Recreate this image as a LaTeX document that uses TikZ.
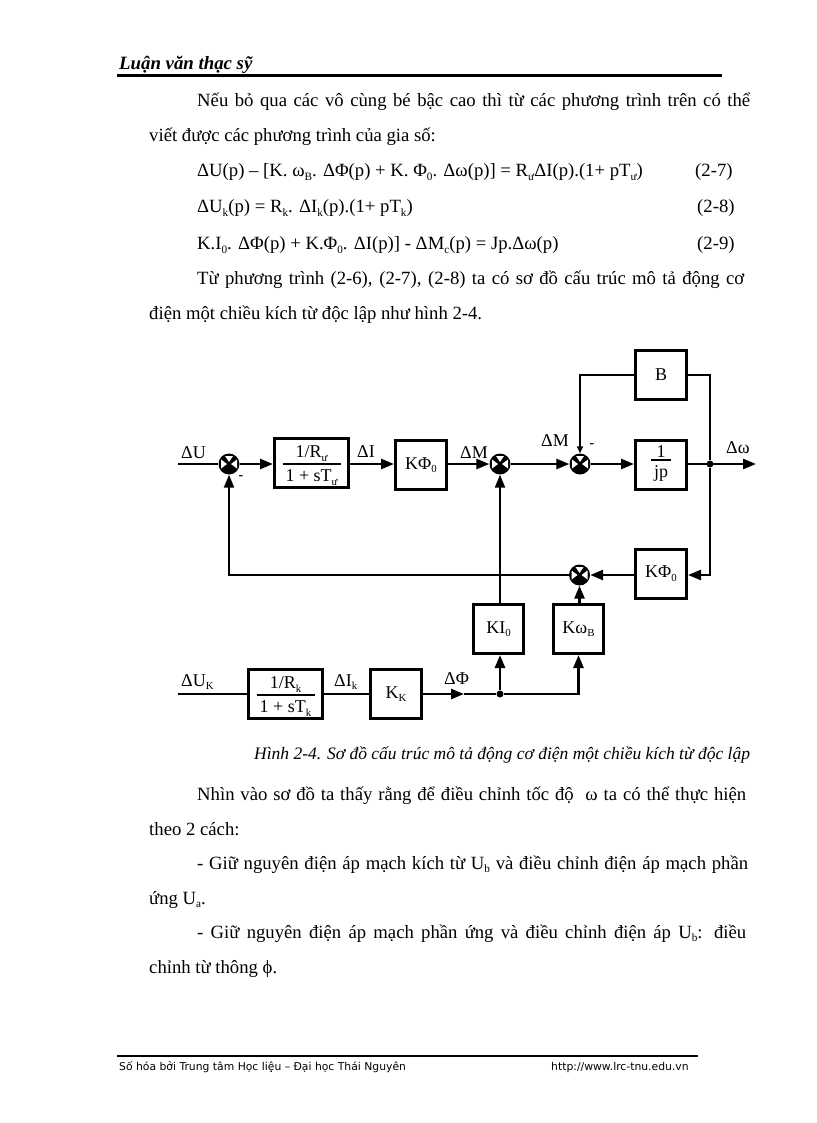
\documentclass[tikz,border=0pt]{standalone}
\usepackage{fontspec}
\setmainfont{Liberation Serif}
\newfontfamily\footfont{DejaVu Sans}
\usetikzlibrary{arrows.meta,calc}
\newcommand\dn[1]{\raisebox{-0.2em}{\scalebox{0.6}{#1}}}
\newcommand\frc[4]{$\vcenter{\hsize=#1\offinterlineskip
  \hbox to #1{\hss\rule{0pt}{15pt}#2\hss}\kern2pt\hrule height 1.6pt\kern2pt
  \hbox to #1{\hss\rule{0pt}{15pt}#3\hss}\kern#4}$}
\tikzset{
  every node/.style={font=\fontsize{18.7}{22}\selectfont,text=black,inner sep=0pt},
  txt/.style={anchor=base west},
  lab/.style={anchor=base west,font=\fontsize{18}{20}\selectfont},
  small/.style={anchor=center,font=\bfseries\fontsize{14}{16}\selectfont},
  foot/.style={anchor=base west,font=\footfont\fontsize{10.8}{12}\selectfont},
  blockbox/.style={draw=black,line width=3pt,anchor=center,fill=white,font=\fontsize{18}{20}\selectfont},
  wire/.style={draw=black,line width=2.6pt},
  thinwire/.style={draw=black,line width=2.2pt},
  tip/.style={-{Triangle[length=13pt,width=10pt]}},
  smalltip/.style={-{Triangle[length=7pt,width=6pt]}},
  dotj/.style={circle,fill=black,minimum size=7pt},
  sumj/.style={circle,fill=black,minimum size=21pt,path picture={
    \fill[white] ($(path picture bounding box.center)+(-8,-4.5)$) -- ($(path picture bounding box.center)+(-2,0)$) -- ($(path picture bounding box.center)+(-8,4.5)$) -- cycle;
    \fill[white] ($(path picture bounding box.center)+(8,-4.5)$) -- ($(path picture bounding box.center)+(2,0)$) -- ($(path picture bounding box.center)+(8,4.5)$) -- cycle;
    \fill[white] ($(path picture bounding box.center)+(-4,-8)$) -- ($(path picture bounding box.center)+(0,-2)$) -- ($(path picture bounding box.center)+(4,-8)$) -- cycle;
  }},
}
\begin{document}
\begin{tikzpicture}[x=1pt,y=-1pt]
\useasboundingbox[fill=white] (0,0) rectangle (816,1123);
% header
\node[txt,font=\bfseries\itshape\fontsize{18.8}{22}\selectfont] (hd) at (119,70) {Luận văn thạc sỹ};
\coordinate (hrA) at (117,76); \coordinate (hrB) at (722,76);
\draw[line width=3pt,black] (hrA) -- (hrB);
% text above
\node[txt] (t1) at (197,107) {\makebox[553pt][s]{Nếu bỏ qua các vô cùng bé bậc cao thì từ các phương trình trên có thể}};
\node[txt] (t2) at (149,142) {viết được các phương trình của gia số:};
\node[txt] (e1) at (197,177) {ΔU(p) – [K. ω\dn{B}. ΔΦ(p) + K. Φ\dn{0}. Δω(p)] = R\dn{ư}ΔI(p).(1+ pT\dn{ư})};
\node[txt] (n1) at (695,177) {(2-7)};
\node[txt] (e2) at (197,213) {ΔU\dn{k}(p) = R\dn{k}. ΔI\dn{k}(p).(1+ pT\dn{k})};
\node[txt] (n2) at (697,213) {(2-8)};
\node[txt] (e3) at (197,250) {K.I\dn{0}. ΔΦ(p) + K.Φ\dn{0}. ΔI(p)] - ΔM\dn{c}(p) = Jp.Δω(p)};
\node[txt] (n3) at (697,250) {(2-9)};
\node[txt] (t3) at (197,284) {\makebox[547pt][s]{Từ phương trình (2-6), (2-7), (2-8) ta có sơ đồ cấu trúc mô tả động cơ}};
\node[txt] (t4) at (149,319) {điện một chiều kích từ độc lập như hình 2-4.};
% blocks
\node[blockbox,minimum width=74pt,minimum height=49pt] (G1) at (311.5,463) {\frc{58pt}{1/R\dn{ư}}{1 + sT\dn{ư}}{-2pt}};
\node[blockbox,minimum width=51pt,minimum height=49pt] (KP1) at (421,465) {KΦ\dn{0}};
\node[blockbox,minimum width=51pt,minimum height=49pt] (JP) at (661,464.5) {\frc{20pt}{1}{jp}{5pt}};
\node[blockbox,minimum width=51pt,minimum height=49pt] (BB) at (661,375) {B};
\node[blockbox,minimum width=51pt,minimum height=49pt] (KP2) at (661,573.5) {KΦ\dn{0}};
\node[blockbox,minimum width=50pt,minimum height=49pt] (KI) at (498.5,629) {KI\dn{0}};
\node[blockbox,minimum width=50pt,minimum height=49pt] (KW) at (578.5,629) {Kω\dn{B}};
\node[blockbox,minimum width=74pt,minimum height=49pt] (G2) at (285.5,694) {\frc{58pt}{1/R\dn{k}}{1 + sT\dn{k}}{-2pt}};
\node[blockbox,minimum width=51pt,minimum height=49pt] (KK) at (396,694) {K\dn{K}};
% junctions
\node[sumj] (S1) at (229,464) {};
\node[sumj] (S2) at (500,464) {};
\node[sumj] (S3) at (580,464) {};
\node[sumj] (S4) at (579.5,575) {};
\node[dotj] (J1) at (710,464) {};
\node[dotj] (J2) at (500,694) {};
\coordinate (inU) at (178,464);
\coordinate (inK) at (178,694);
\coordinate (outW) at (756,464);
\coordinate (midP) at (464,694);
% connectors
\draw[wire] (inU) -- (S1);
\draw[wire,tip] (S1) -- (G1.west |- S1);
\draw[wire,tip] (G1.east |- S1) -- (KP1.west |- S1);
\draw[wire,tip] (KP1.east |- S1) -- (S2);
\draw[wire,tip] (S2) -- (S3);
\draw[wire,tip] (S3) -- (JP.west |- S3);
\draw[wire,tip] (JP.east |- J1) -- (outW);
\draw[thinwire] (BB.east) -| (J1);
\draw[thinwire,smalltip] (BB.west) -| (S3);
\draw[thinwire,tip] (J1) |- (KP2.east |- S4);
\draw[wire,tip] (KP2.west |- S4) -- (S4);
\draw[thinwire,tip] (S4) -| (S1);
\draw[wire] (inK) -- (G2);
\draw[wire] (G2) -- (KK);
\draw[wire,tip] (KK) -- (midP);
\draw[wire] (midP) -- (J2);
\draw[wire,tip] (J2) -- (J2 |- KI.south);
\draw[wire,tip] (J2) -| (KW);
\draw[thinwire,tip] (KI.north -| S2) -- (S2);
\draw[wire,tip] (KW.north -| S4) -- (S4);
% labels
\node[lab] (lU) at (181,458) {ΔU};
\node[lab] (lI) at (357,457) {ΔI};
\node[lab] (lM1) at (460,458) {ΔM};
\node[lab] (lM2) at (541,446) {ΔM};
\node[lab] (lw) at (726,453) {Δω};
\node[lab] (lUk) at (181,686) {ΔU\dn{K}};
\node[lab] (lIk) at (334,686) {ΔI\dn{k}};
\node[lab] (lP) at (444,684) {ΔΦ};
\node[small] (m1) at (241,478) {-};
\node[small] (m2) at (592,446) {-};
% text below
\node[txt,font=\itshape\fontsize{17.5}{21}\selectfont] (cap) at (254,759) {Hình 2-4. Sơ đồ cấu trúc mô tả động cơ điện một chiều kích từ độc lập};
\node[txt] (b1) at (197,800) {\makebox[549pt][s]{Nhìn vào sơ đồ ta thấy rằng để điều chỉnh tốc độ \ ω ta có thể thực hiện}};
\node[txt] (b2) at (149,835) {theo 2 cách:};
\node[txt] (b3) at (197,869) {\makebox[551pt][s]{- Giữ nguyên điện áp mạch kích từ U\dn{b} và điều chỉnh điện áp mạch phần}};
\node[txt] (b4) at (149,904) {ứng U\dn{a}.};
\node[txt] (b5) at (197,938) {\makebox[549pt][s]{- Giữ nguyên điện áp mạch phần ứng và điều chỉnh điện áp U\dn{b}: điều}};
\node[txt] (b6) at (149,973) {chỉnh từ thông ϕ.};
% footer
\coordinate (frA) at (117,1056); \coordinate (frB) at (698,1056);
\draw[line width=2.5pt,black] (frA) -- (frB);
\node[foot] (f1) at (119,1070) {Số hóa bởi Trung tâm Học liệu – Đại học Thái Nguyên};
\node[foot] (f2) at (551,1070) {http://www.lrc-tnu.edu.vn};
\end{tikzpicture}
\end{document}
